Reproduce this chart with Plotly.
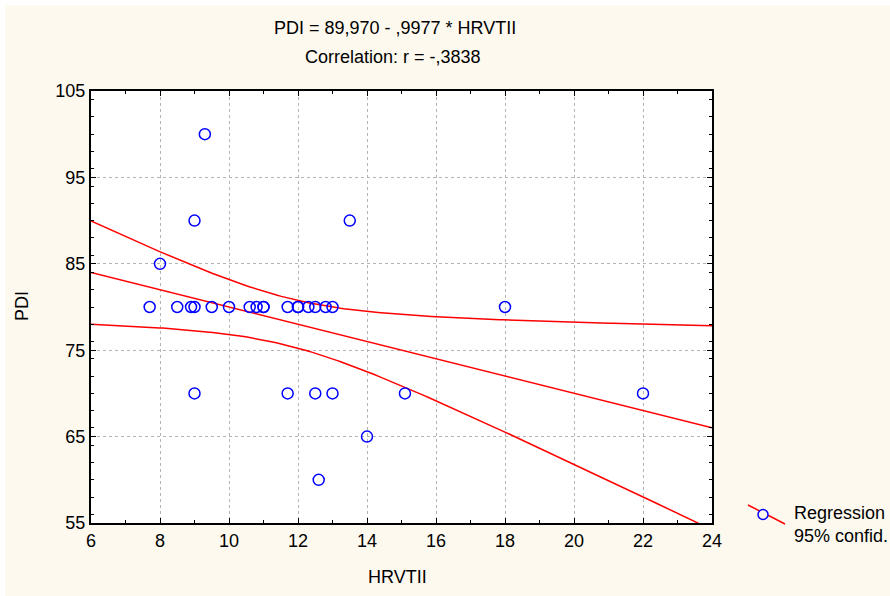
import numpy as np
import plotly.graph_objects as go

# Data (HRVTII, PDI)
hrvtii = [7.7, 8.5, 8.9, 9.0, 9.5, 10.0, 10.6, 10.8, 11.0, 11.7, 12.0, 12.3, 12.5, 12.8, 13.0, 18.0,
          11.0, 12.0,
          9.3, 9.0, 13.5, 8.0,
          9.0, 11.7, 12.5, 13.0, 15.1, 22.0,
          14.0, 12.6]
pdi = [80, 80, 80, 80, 80, 80, 80, 80, 80, 80, 80, 80, 80, 80, 80, 80,
       80, 80,
       100, 90, 90, 85,
       70, 70, 70, 70, 70, 70,
       65, 60]

intercept = 89.970
slope = -0.9977
t_crit = 2.048  # t(0.975, df = n-2)

x = np.array(hrvtii, dtype=float)
y = np.array(pdi, dtype=float)
n = len(x)
xbar = x.mean()
sxx = ((x - xbar) ** 2).sum()
resid = y - (intercept + slope * x)
s = np.sqrt((resid ** 2).sum() / (n - 2))

xs = np.linspace(6, 24, 200)
yhat = intercept + slope * xs
hw = t_crit * s * np.sqrt(1.0 / n + (xs - xbar) ** 2 / sxx)

font = "Liberation Sans, Arial, sans-serif"
fs = 18
fig = go.Figure()
for yy in (yhat, yhat + hw, yhat - hw):
    fig.add_trace(go.Scatter(x=xs, y=yy, mode="lines", line=dict(color="#ff0000", width=1.5),
                             showlegend=False, hoverinfo="skip", cliponaxis=True))
fig.add_trace(go.Scatter(x=hrvtii, y=pdi, mode="markers",
                         marker=dict(symbol="circle-open", size=11, color="#0000ff", line=dict(width=1.5, color="#0000ff")),
                         showlegend=False))

L, R, T, B = 91, 712, 91, 523
W, H = 890, 596
pw, ph = R - L, B - T
def px(xp):
    return (xp - L) / pw
def py(yp):
    return (B - yp) / ph

shapes = [
    dict(type="rect", xref="paper", yref="paper", x0=px(5), x1=px(890), y0=py(596), y1=py(5),
         fillcolor="#fdf9ef", line=dict(width=0), layer="below"),
    dict(type="rect", xref="paper", yref="paper", x0=0, x1=1, y0=0, y1=1,
         fillcolor="white", line=dict(width=0), layer="below"),
    dict(type="line", xref="paper", yref="paper", x0=px(748), y0=py(505), x1=px(785), y1=py(524),
         line=dict(color="#ff0000", width=1.5)),
    dict(type="circle", xref="paper", yref="paper", x0=px(758), x1=px(768), y0=py(519.5), y1=py(509.5),
         fillcolor="#fdf9ef", line=dict(color="#0000ff", width=1.5)),
]

annotations = [
    dict(text="PDI = 89,970 - ,9977 * HRVTII", x=px(395), y=py(28), xref="paper", yref="paper",
         xanchor="center", yanchor="middle",
         showarrow=False, font=dict(size=fs, color="black", family=font)),
    dict(text="Correlation: r = -,3838", x=px(393), y=py(57), xref="paper", yref="paper",
         xanchor="center", yanchor="middle",
         showarrow=False, font=dict(size=fs, color="black", family=font)),
    dict(text="Regression<br>95% confid.", x=px(792), y=py(524), xref="paper", yref="paper",
         xanchor="left", yanchor="middle", align="left", showarrow=False,
         font=dict(size=fs, color="black", family=font)),
    dict(text="HRVTII", x=px(397), y=py(577), xref="paper", yref="paper",
         xanchor="center", yanchor="middle", showarrow=False,
         font=dict(size=fs, color="black", family=font)),
    dict(text="PDI", x=px(22), y=py(306), xref="paper", yref="paper", textangle=-90,
         xanchor="center", yanchor="middle", showarrow=False,
         font=dict(size=fs, color="black", family=font)),
]

axis_common = dict(showline=True, linecolor="black", linewidth=2, mirror="ticks",
                   ticks="inside", ticklen=5, tickcolor="black", tickwidth=1,
                   showgrid=True, gridcolor="#b4b4b4", griddash="dot", gridwidth=1,
                   zeroline=False, tickfont=dict(size=fs, color="black", family=font))

fig.update_layout(
    width=W, height=H,
    margin=dict(l=L, r=W - R, t=T, b=H - B),
    paper_bgcolor="white", plot_bgcolor="rgba(0,0,0,0)",
    shapes=shapes, annotations=annotations, showlegend=False,
    xaxis=dict(range=[6, 24], dtick=2, tick0=6,
               minor=dict(dtick=1, ticks="inside", ticklen=3, tickcolor="black", showgrid=False),
               **axis_common),
    yaxis=dict(range=[55, 105], dtick=10, tick0=55,
               minor=dict(dtick=2, ticks="inside", ticklen=3, tickcolor="black", showgrid=False),
               **axis_common),
)

fig.write_html("out.html")
